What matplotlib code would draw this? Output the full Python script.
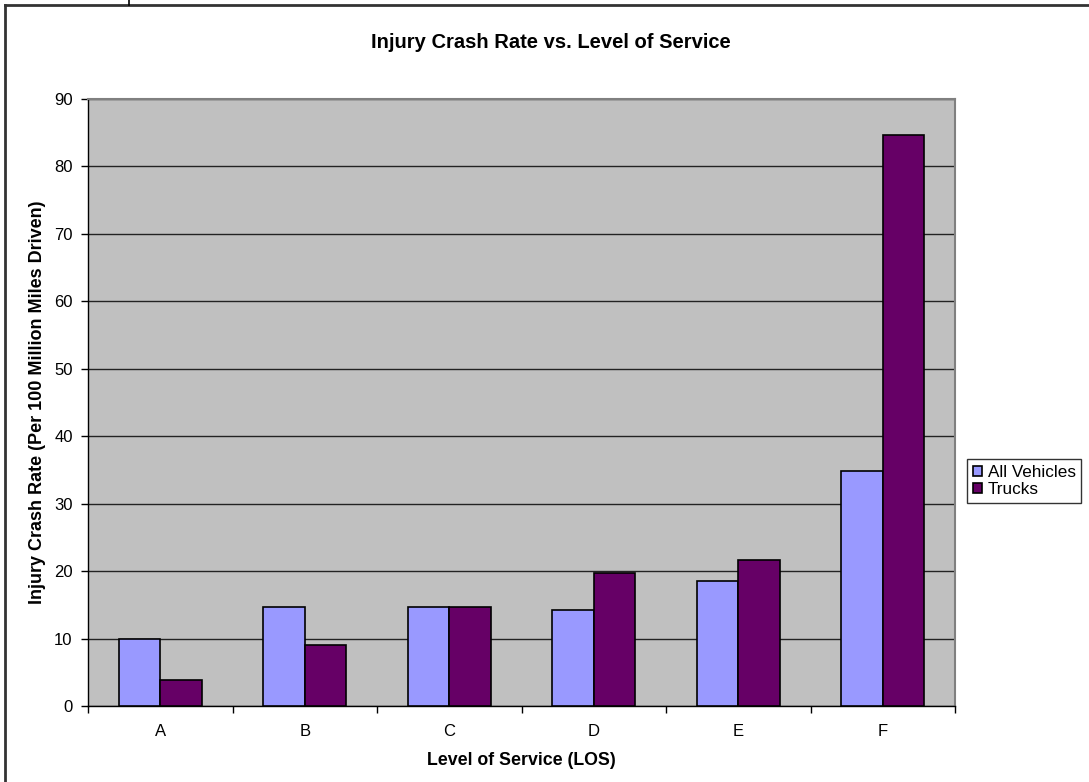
import numpy as np
import matplotlib
matplotlib.use('Agg')
import matplotlib.pyplot as plt
from matplotlib.lines import Line2D

plt.rcParams['font.family'] = ['Liberation Sans', 'DejaVu Sans']

# 数据
los = ['A', 'B', 'C', 'D', 'E', 'F']
all_vehicles = [10.0, 14.7, 14.7, 14.3, 18.5, 34.8]
trucks = [3.8, 9.1, 14.7, 19.7, 21.6, 84.6]

fig = plt.figure(figsize=(10.89, 7.82), dpi=100)
ax = fig.add_axes([88/1089, 1 - 706/782, (955 - 88)/1089, (706 - 99)/782])

x = np.arange(len(los))
w = 0.287
ax.set_facecolor('#C0C0C0')
ax.bar(x - w/2, all_vehicles, w, color='#9999FF', edgecolor='black', linewidth=1.2,
       label='All Vehicles', zorder=3)
ax.bar(x + w/2, trucks, w, color='#660066', edgecolor='black', linewidth=1.2,
       label='Trucks', zorder=3)

# 坐标轴
ax.set_xlim(-0.5, len(los) - 0.5)
ax.set_ylim(0, 90)
ax.set_yticks(np.arange(0, 91, 10))
ax.yaxis.grid(True, color='#222222', linewidth=1.0, zorder=1)
ax.set_axisbelow(True)
ax.set_xticks(x)
ax.set_xticklabels(los)
ax.set_xticks(np.arange(-0.5, len(los)), minor=True)
ax.tick_params(axis='x', which='major', length=0, pad=13, labelsize=12)
ax.tick_params(axis='x', which='minor', length=5, direction='out', width=1)
ax.tick_params(axis='y', length=5, direction='out', width=1, labelsize=12, pad=6)

for side in ['top', 'right']:
    ax.spines[side].set_color('#808080')
    ax.spines[side].set_linewidth(1.5)
for side in ['left', 'bottom']:
    ax.spines[side].set_color('black')
    ax.spines[side].set_linewidth(1.0)

ax.set_xlabel('Level of Service (LOS)', fontsize=12.8, fontweight='bold', labelpad=9)
ax.set_ylabel('Injury Crash Rate (Per 100 Million Miles Driven)', fontsize=13,
              fontweight='bold', labelpad=6)
fig.text(551/1089, 1 - 42/782, 'Injury Crash Rate vs. Level of Service',
         ha='center', va='center', fontsize=14.5, fontweight='bold')

# 图例
leg = fig.legend(loc='upper left', bbox_to_anchor=(967/1089, 1 - 459/782),
                 fontsize=12.3, frameon=True, fancybox=False, borderpad=0.35,
                 handlelength=0.55, handleheight=0.55, handletextpad=0.3,
                 labelspacing=0.12, borderaxespad=0)
leg.get_frame().set_edgecolor('black')
leg.get_frame().set_linewidth(1.0)

# 外框
fig.add_artist(Line2D([5/1089, 5/1089], [0, 1 - 5/782], color='#333333', linewidth=2))
fig.add_artist(Line2D([5/1089, 1], [1 - 5/782, 1 - 5/782], color='#333333', linewidth=2))
fig.add_artist(Line2D([129/1089, 129/1089], [1 - 5/782, 1], color='black', linewidth=1.2))

plt.savefig('out.png', dpi=100)
